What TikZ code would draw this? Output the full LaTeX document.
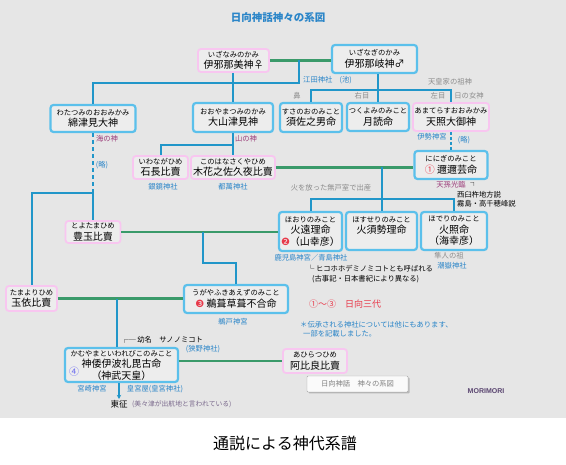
\documentclass[tikz,border=0pt]{standalone}
\usepackage{fontspec}
\setmainfont{Noto Sans CJK JP}
\newfontfamily\dejavu{DejaVu Sans}
\newfontfamily\libsans{Liberation Sans}
\definecolor{haikei}{HTML}{E6E6E6}
\definecolor{boxfill}{HTML}{EDEDED}
\definecolor{kamiblue}{HTML}{5BC0EB}
\definecolor{himepink}{HTML}{F8C6F0}
\definecolor{keiblue}{HTML}{2196C9}
\definecolor{engreen}{HTML}{3A9A6A}
\definecolor{shablue}{HTML}{2A85C8}
\definecolor{koupurple}{HTML}{9B3C7A}
\definecolor{meigray}{HTML}{8C8C8C}
\definecolor{numred}{HTML}{E8394A}
\definecolor{numblue}{HTML}{6A6AF0}
\definecolor{signpurple}{HTML}{5A4570}
\usetikzlibrary{arrows.meta,positioning,shadows}
\newcommand\ysize{\fontsize{7.3}{9}\selectfont}
\newcommand\ksize{\fontsize{10}{11.5}\selectfont}
\tikzset{
  kami/.style={draw=kamiblue,line width=2.2pt,rounded corners=3pt,fill=boxfill,align=center,
               inner sep=1pt,font=\ksize},
  hime/.style={kami,draw=himepink,line width=1.8pt},
  kei/.style={draw=keiblue,line width=2pt},
  en/.style={draw=engreen,line width=2.8pt},
  sha/.style={font=\ysize,text=shablue,inner sep=0pt},
  kou/.style={font=\ysize,text=koupurple,inner sep=0pt},
  mei/.style={font=\ysize,text=meigray,inner sep=0pt},
  bun/.style={font=\ysize,inner sep=0pt},
  hanrei/.style={draw=gray!70,fill=white!96!gray,rounded corners=1pt,font=\ysize,text=gray,
                 minimum width=101pt,minimum height=16pt,inner sep=1pt,
                 drop shadow={shadow xshift=1.5pt,shadow yshift=-1.5pt,opacity=0.45}}
}

\begin{document}
\begin{tikzpicture}[x=1pt,y=-1pt]
    \fill[haikei] (0,0) rectangle (566,418);
    \useasboundingbox (0,0) rectangle (566,465);
    \node[font=\fontsize{10.5}{12}\selectfont\bfseries,text=shablue] (title) at (278,18) {日向神話神々の系図};
    % first generation
    \node[hime,minimum width=71pt,minimum height=23pt] (izanami) at (233.5,60.5) {{\ysize いざなみのかみ}\\伊邪那美神♀};
    \node[kami,minimum width=85pt,minimum height=28pt] (izanagi) at (374.5,59) {{\ysize いざなぎのかみ}\\伊邪那岐神♂};
    % children of izanagi / izanami
    \node[kami,minimum width=85pt,minimum height=27pt] (watatsumi) at (93,118.5) {{\ysize わたつみのおおみかみ}\\綿津見大神};
    \node[kami,minimum width=80pt,minimum height=29pt] (ooyamatsumi) at (233,117.5) {{\ysize おおやまつみのかみ}\\大山津見神};
    \node[kami,minimum width=62pt,minimum height=29pt] (susanoo) at (311,117.5) {{\ysize すさのおのみこと}\\須佐之男命};
    \node[kami,minimum width=62pt,minimum height=28pt] (tsukuyomi) at (378,117) {{\ysize つくよみのみこと}\\月読命};
    \node[hime,minimum width=76pt,minimum height=28pt] (amaterasu) at (451,117) {{\ysize あまてらすおおみかみ}\\天照大御神};
    \node[hime,minimum width=55pt,minimum height=23pt] (iwanaga) at (160.5,167.5) {{\ysize いわながひめ}\\石長比賣};
    \node[hime,minimum width=84pt,minimum height=23pt] (konohana) at (233,167.5) {{\ysize このはなさくやひめ}\\木花之佐久夜比賣};
    \node[kami,minimum width=73pt,minimum height=28pt] (ninigi) at (451,165) {{\ysize ににぎのみこと}\\{\color{numred}①} 邇邇芸命};
    \node[hime,minimum width=55pt,minimum height=22pt] (toyotama) at (93,232) {{\ysize とよたまひめ}\\豊玉比賣};
    \node[kami,minimum width=63pt,minimum height=39pt] (hoori) at (310.5,231.5) {{\ysize ほおりのみこと}\\火遠理命\\{\dejavu\color{numred}❷}（山幸彦）};
    \node[kami,minimum width=71pt,minimum height=38pt] (hosuseri) at (381.5,231) {{\ysize ほすせりのみこと}\\火須勢理命\\~};
    \node[kami,minimum width=66pt,minimum height=38pt] (hoderi) at (454,231) {{\ysize ほでりのみこと}\\火照命\\（海幸彦）};
    \node[hime,minimum width=51pt,minimum height=25pt] (tamayori) at (31.5,298.5) {{\ysize たまよりひめ}\\玉依比賣};
    \node[kami,minimum width=104pt,minimum height=28pt] (ugaya) at (236,299) {{\ysize うがやふきあえずのみこと}\\{\dejavu\color{numred}❸} 鵜葺草葺不合命};
    \node[kami,minimum width=113pt,minimum height=34pt] (kamuyamato) at (121.5,365) {{\ysize かむやまといわれびこのみこと}\\神倭伊波礼毘古命\\（神武天皇）};
    \node[text=numblue,font=\ksize,inner sep=0pt] (num4) at (74,372) {④};
    \node[hime,minimum width=64pt,minimum height=24pt] (ahiratsu) at (315,361) {{\ysize あひらつひめ}\\阿比良比賣};
    \node[hanrei] (hanrei) at (357.5,384) {日向神話　神々の系図};
    % marriage lines
    \draw[en] (izanami.east) -- (izanami.east -| izanagi.west);
    \draw[en] (konohana.east) -- (konohana.east -| ninigi.west);
    \draw[en] (toyotama.east) -- (toyotama.east -| hoori.west);
    \draw[en] (tamayori.east) -- (tamayori.east -| ugaya.west);
    \draw[en] (kamuyamato.east |- ahiratsu.west) -- (ahiratsu.west);
    % descent lines
    \coordinate (m1) at (299,60.5);
    \coordinate (j0) at (299,83);
    \draw[kei] (m1) -- (j0) -| (watatsumi.north);
    \draw[kei] (izanami.south -| ooyamatsumi.north) -- (ooyamatsumi.north);
    \coordinate (j1) at (378,90);
    \draw[kei] (izanagi.south -| tsukuyomi.north) -- (tsukuyomi.north);
    \draw[kei] (susanoo.north) |- (j1) -| (amaterasu.north);
    \coordinate (j2) at (233,145);
    \draw[kei] (ooyamatsumi.south) -- (konohana.north);
    \draw[kei] (iwanaga.north) |- (j2);
    \draw[kei,dash pattern=on 3pt off 2pt] (amaterasu.south) -- (ninigi.north);
    \coordinate (m2) at (381.5,167.5);
    \coordinate (j3) at (381.5,199);
    \draw[kei] (m2) -- (hosuseri.north);
    \draw[kei] (hoori.north) |- (j3) -| (hoderi.north);
    \coordinate (j4) at (93,193);
    \draw[kei,dash pattern=on 4pt off 3pt] (watatsumi.south) -- (j4);
    \draw[kei] (j4) -- (toyotama.north);
    \draw[kei] (j4) -| (tamayori.north);
    \coordinate (m3) at (203,232);
    \coordinate (j5) at (236,263);
    \draw[kei] (m3) |- (j5) -- (ugaya.north);
    \coordinate (m4) at (117,299);
    \draw[kei] (m4) -- (m4 |- kamuyamato.north);
    \node[font=\fontsize{8.5}{10}\selectfont,inner sep=0pt] (tousei) at (119,404) {東征};
    \draw[kei,line width=1.4pt,-{Stealth[length=4pt,width=4.5pt]}] (kamuyamato.south -| tousei.north) -- ([yshift=1pt]tousei.north);
    % notes
    \node[sha,anchor=west] (eda) at (303,80) {江田神社　(池)};
    \node[mei] (sosin) at (450,82) {天皇家の祖神};
    \node[mei] (hana) at (297,96) {鼻};
    \node[mei] (migi) at (362,96) {右目};
    \node[mei] (hidari) at (438,96) {左目};
    \node[mei] (megami) at (469,96) {日の女神};
    \node[kou] (umi) at (107,139) {海の神};
    \node[sha] (ryaku1) at (102,165) {(略)};
    \node[kou] (yama) at (246,139) {山の神};
    \node[sha] (ise) at (432,137) {伊勢神宮};
    \node[sha] (ryaku2) at (464,140) {(略)};
    \node[sha] (shiromi) at (163,187) {銀鏡神社};
    \node[sha] (tsuma) at (233,187) {都萬神社};
    \node[mei] (muro) at (331,188) {火を放った無戸室で出産};
    \node[kou] (kourin) at (451,185) {天孫光臨};
    \node[bun] at (474,184) {┐};
    \node[bun,anchor=west] (nishiusuki) at (457,195) {西臼杵地方説};
    \node[bun,anchor=west] (kirishima) at (457,204) {霧島・高千穂峰説};
    \node[sha] (kagoshima) at (311,258) {鹿児島神宮／青島神社};
    \node[bun,anchor=west] (hikoho) at (307,269) {└ ヒコホホデミノミコトとも呼ばれる};
    \node[bun,anchor=west] (kojiki) at (312,279) {(古事記・日本書紀により異なる)};
    \node[mei] (hayato) at (449,256) {隼人の祖};
    \node[sha] (ushio) at (452,266) {潮嶽神社};
    \node[font=\fontsize{9}{11}\selectfont,text=numred,inner sep=0pt] (sandai) at (345,304) {①～③　日向三代};
    \node[sha] (udo) at (233,322) {鵜戸神宮};
    \node[sha,anchor=west] (denshou) at (300,325) {＊伝承される神社については他にもあります、};
    \node[sha,anchor=west] (ichibu) at (303,334) {一部を記載しました。};
    \node[bun,anchor=west] (osana) at (121,340) {┌─ 幼名　サノノミコト};
    \node[sha] (sano) at (203,349) {(狭野神社)};
    \node[sha] (miyazaki) at (92,389) {宮崎神宮};
    \node[sha] (kouguya) at (155,389) {皇宮屋(皇宮神社)};
    \node[font=\fontsize{6.8}{8}\selectfont,text=signpurple!80,inner sep=0pt,anchor=west] (mimitsu) at (132,404.5) {(美々津が出航地と言われている)};
    \node[font=\fontsize{7}{8}\selectfont\libsans\bfseries,text=signpurple,inner sep=0pt] (sign) at (486,391) {MORIMORI};
    \node[font=\fontsize{16}{18}\selectfont,inner sep=0pt] (caption) at (285,443) {通説による神代系譜};
\end{tikzpicture}
\end{document}
